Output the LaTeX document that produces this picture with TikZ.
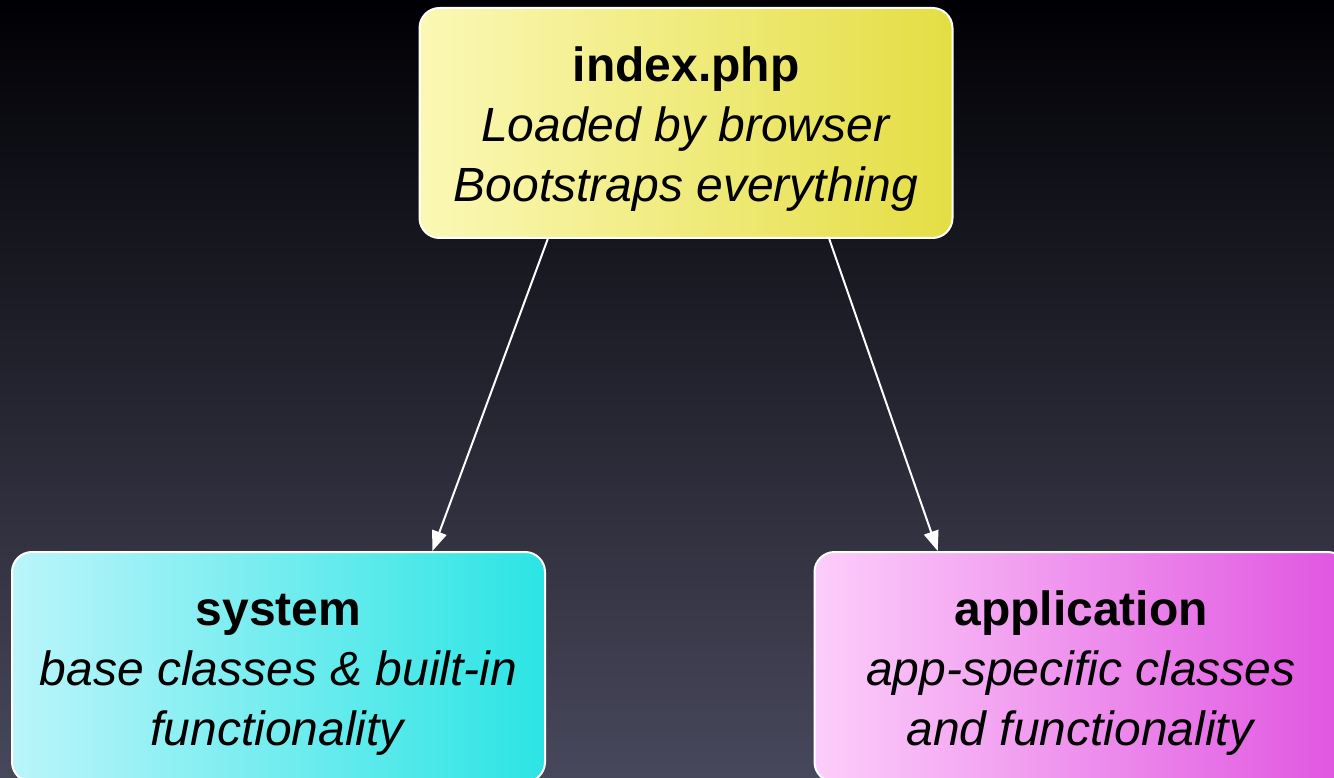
\documentclass[tikz,border=0pt]{standalone}
\usepackage{fontspec}
\setmainfont{Liberation Sans}
\usetikzlibrary{arrows.meta}
\definecolor{bgtop}{RGB}{0,0,4}
\definecolor{bgmid}{RGB}{26,28,46}
\definecolor{bgbot}{RGB}{72,72,92}
\definecolor{yelL}{RGB}{251,248,182}
\definecolor{yelR}{RGB}{228,222,68}
\definecolor{cyaL}{RGB}{186,245,250}
\definecolor{cyaR}{RGB}{44,228,228}
\definecolor{magL}{RGB}{252,206,250}
\definecolor{magR}{RGB}{224,84,224}

\begin{document}
\begin{tikzpicture}[x=1pt, y=-1pt,
    box/.style={draw=white, line width=2pt, rounded corners=20pt, minimum width=533pt, minimum height=230pt, align=center, text height=167pt, font=\fontsize{48}{60}\selectfont},
    arr/.style={white, line width=2pt, -{Triangle[length=20pt,width=15pt]}}]
    \useasboundingbox (0,0) rectangle (1334,778);
    \clip (0,0) rectangle (1334,778);
    \fill[top color=bgtop, middle color=bgmid, bottom color=bgbot] (0,0) rectangle (1334,778);
    \node[box, left color=yelL, right color=yelR] (index) at (686,123) {\textbf{index.php}\\\textit{Loaded by browser}\\\textit{Bootstraps everything}};
    \node[box, left color=cyaL, right color=cyaR] (system) at (278.5,667) {\textbf{system}\\\textit{base classes \& built-in}\\\textit{functionality}};
    \node[box, left color=magL, right color=magR] (application) at (1081,667) {\textbf{application}\\\textit{app-specific classes}\\\textit{and functionality}};
    \draw[arr] (index.220) -- (system.37);
    \draw[arr] (index.321) -- (application.141);
\end{tikzpicture}
\end{document}
